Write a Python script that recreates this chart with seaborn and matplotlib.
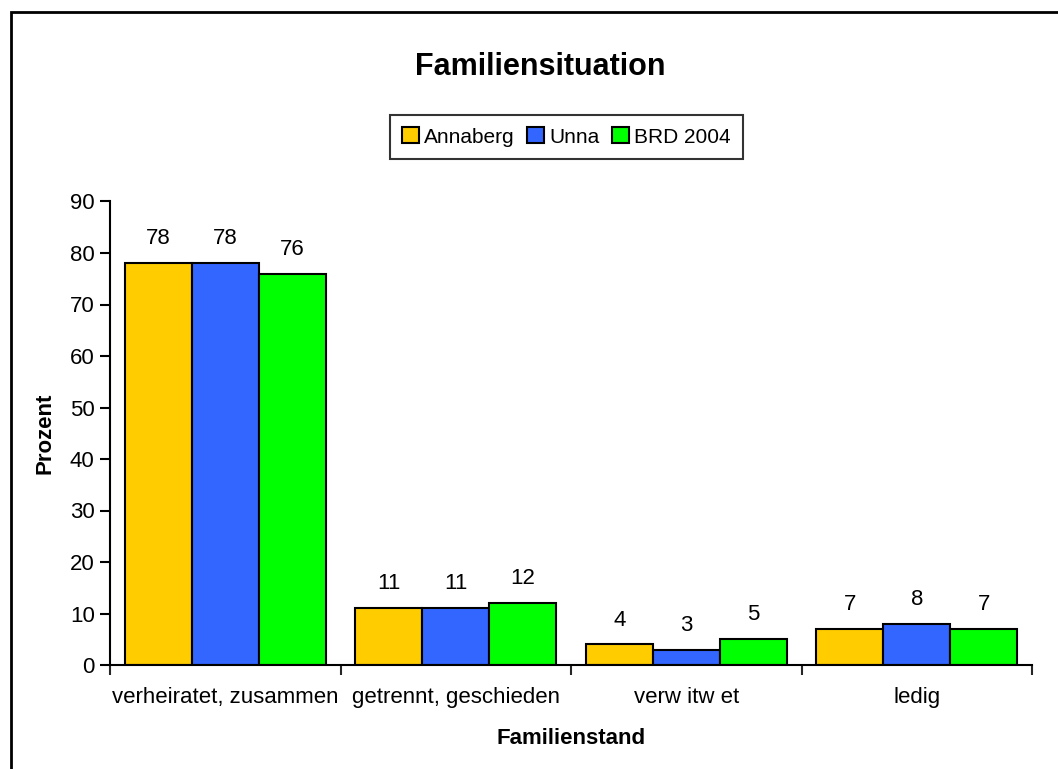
import matplotlib
matplotlib.use("Agg")
import matplotlib.pyplot as plt
import seaborn as sns
import pandas as pd
from matplotlib.patches import Rectangle

categories = ["verheiratet, zusammen", "getrennt, geschieden", "verw itw et", "ledig"]
series = ["Annaberg", "Unna", "BRD 2004"]
annaberg = [78, 11, 4, 7]
unna = [78, 11, 3, 8]
brd2004 = [76, 12, 5, 7]
colors = ["#FFCC00", "#3366FF", "#00FF00"]

rows = []
for name, vals in zip(series, [annaberg, unna, brd2004]):
    for c, v in zip(categories, vals):
        rows.append({"Familienstand": c, "Serie": name, "Prozent": v})
df = pd.DataFrame(rows)

sns.set_theme(style="white")
plt.rcParams["font.family"] = ["Liberation Sans", "DejaVu Sans"]

FS = 16

fig = plt.figure(figsize=(10.58, 7.69), dpi=100)
ax = fig.add_axes([110/1058, 1-665/769, (1032-110)/1058, (665-201.5)/769])

sns.barplot(data=df, x="Familienstand", y="Prozent", hue="Serie",
            hue_order=series, order=categories, palette=colors,
            width=0.872, gap=0, edgecolor="black", linewidth=1.5,
            saturation=1, ax=ax, legend=True)

for cont in ax.containers:
    ax.bar_label(cont, labels=[f"{v:.0f}" for v in cont.datavalues],
                 padding=10, fontsize=FS, color="black")

ax.set_ylim(0, 90)
ax.set_xlim(-0.5, 3.5)
ax.set_yticks(range(0, 91, 10))
ax.tick_params(axis="y", labelsize=FS, length=7, width=1.5, direction="out",
               left=True, pad=4, colors="black")
ax.set_xticks([i - 0.5 for i in range(5)])
ax.set_xticklabels([""] * 5)
ax.tick_params(axis="x", which="major", length=7, width=1.5, direction="out",
               bottom=True)
ax.set_xticks(range(4), minor=True)
ax.set_xticklabels(categories, minor=True, fontsize=FS)
ax.tick_params(axis="x", which="minor", length=0, pad=16)
for lab in ax.get_yticklabels() + ax.get_xticklabels(minor=True):
    lab.set_color("black")

for s in ["top", "right"]:
    ax.spines[s].set_visible(False)
for s in ["left", "bottom"]:
    ax.spines[s].set_color("black")
    ax.spines[s].set_linewidth(1.5)
ax.grid(False)

ax.set_ylabel("Prozent", fontsize=FS, fontweight="bold", color="black")
ax.yaxis.set_label_coords((45-110)/922, 0.5)
ax.yaxis.label.set_verticalalignment("center")
ax.set_xlabel("Familienstand", fontsize=FS, fontweight="bold", color="black")
ax.xaxis.set_label_coords(0.5, (665-738)/463.5)
ax.xaxis.label.set_verticalalignment("center")

leg = ax.legend(loc="center", bbox_to_anchor=(566.5/1058, 1-137/769),
                bbox_transform=fig.transFigure, ncol=3, fontsize=15,
                frameon=True, fancybox=False, edgecolor="black",
                handlelength=0.8, handleheight=0.8, handletextpad=0.25,
                columnspacing=0.6, borderpad=0.6)
leg.get_frame().set_linewidth(1.5)
leg.set_title(None)
for t in leg.get_texts():
    t.set_color("black")

fig.text(540/1058, 1-67/769, "Familiensituation", ha="center", va="center",
         fontsize=22, fontweight="bold", color="black")

fig.patches.append(Rectangle((11/1058, -0.1), 1.2, 1 - 12/769 + 0.1,
                             transform=fig.transFigure, fill=False,
                             edgecolor="black", linewidth=2))

fig.savefig("out.png", dpi=100)
